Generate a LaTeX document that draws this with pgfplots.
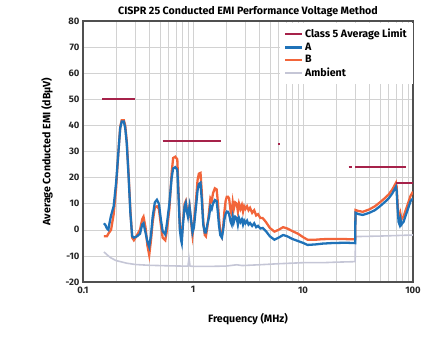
\documentclass[border=0pt]{standalone}
\usepackage{fontspec}
\setmainfont{Fira Sans}
\usepackage{pgfplots}
\pgfplotsset{compat=1.18}
\definecolor{limc}{HTML}{A6224A}
\definecolor{ca}{HTML}{1F72B8}
\definecolor{cb}{HTML}{F2653A}
\definecolor{amb}{HTML}{C5C6D6}
\definecolor{gridc}{HTML}{D2D2D2}
\definecolor{framec}{HTML}{505050}
\begin{document}
\begin{tikzpicture}
\begin{axis}[
  scale only axis, width=330bp, height=261bp,
  xmode=log, xmin=0.1, xmax=100, ymin=-20, ymax=80,
  log basis x=10,
  xtick={0.1,1,10,100}, xticklabels={0.1,1,10,100},
  ytick={-20,-10,0,10,20,30,40,50,60,70,80},
  yticklabels={-20,-10,0,10,20,30,40,50,60,70,80},
  minor xtick={0.2,0.3,0.4,0.5,0.6,0.7,0.8,0.9,2,3,4,5,6,7,8,9,20,30,40,50,60,70,80,90},
  grid=both,
  major grid style={gridc, line width=0.6pt},
  minor grid style={gridc, line width=0.6pt},
  major tick length=0pt, minor tick length=0pt,
  axis line style={framec, line width=1.2pt},
  tick label style={font=\bfseries\fontsize{9.5}{11}\selectfont, color=black!85},
  xticklabel style={yshift=-1bp},
  title={\bfseries\fontsize{10.7}{12}\selectfont CISPR 25 Conducted EMI Performance Voltage Method},
  title style={yshift=-5bp},
  xlabel={\bfseries\fontsize{10.7}{12}\selectfont Frequency (MHz)},
  ylabel={\bfseries\fontsize{10.7}{12}\selectfont Average Conducted EMI (dBµV)},
  xlabel style={yshift=-13bp},
  ylabel style={yshift=6bp},
  legend style={at={(1,1)}, anchor=north east, fill=white, draw=none, yshift=-2bp,
    font=\bfseries\fontsize{10.7}{12}\selectfont, row sep=-0.3pt, inner xsep=4pt, inner ysep=4pt},
  legend cell align=left,
  legend image post style={line width=2.2pt},
]
\addlegendimage{limc, line width=2pt}
\addlegendimage{ca, line width=2pt}
\addlegendimage{cb, line width=2pt}
\addlegendimage{amb, line width=2pt}
\addplot[limc, line width=1.8pt, forget plot] coordinates {(0.15,50) (0.3,50)};
\addplot[amb, line width=1.6pt, forget plot] coordinates {
(0.155,-8.5) (0.16,-9) (0.17,-10) (0.18,-10.8) (0.2,-11.8) (0.25,-12.8) (0.3,-13.3)
(0.4,-13.6) (0.6,-13.8) (0.8,-13.9) (0.9,-13.9) (0.92,-10.8) (0.94,-13.9) (1,-14)
(1.5,-14) (2,-13.9) (2.5,-13.4) (2.8,-13.7) (4,-13.4) (6,-13) (10,-12.6) (15,-12.6)
(20,-12.4) (29.8,-12.2) (30,-2.6) (50,-2.4) (100,-2)};
\addplot[cb, line width=2.3pt, forget plot] coordinates {
(0.155,-2.5) (0.165,-2.5) (0.17,-1.5) (0.18,0) (0.19,6) (0.2,16) (0.21,30) (0.218,39.5)
(0.225,42) (0.235,42) (0.242,40) (0.25,34) (0.26,21) (0.27,7) (0.28,-3) (0.29,-4)
(0.31,-2) (0.33,0) (0.345,4) (0.355,5) (0.37,1) (0.385,-6) (0.4,-9.7) (0.415,-4)
(0.43,3) (0.45,8.5) (0.47,9) (0.49,8) (0.51,2) (0.53,-3) (0.56,-4) (0.58,0) (0.61,8)
(0.64,22) (0.66,27.5) (0.69,28) (0.72,27) (0.74,14) (0.76,1) (0.78,-2) (0.79,-3)
(0.81,3) (0.84,10) (0.86,11) (0.88,8) (0.9,6) (0.93,9) (0.96,3) (0.99,-2) (1.02,3)
(1.06,10) (1.1,19) (1.13,21.5) (1.17,21.8) (1.2,15) (1.24,3) (1.28,-2) (1.31,-2.5)
(1.35,1) (1.4,7) (1.44,12) (1.48,11) (1.52,14) (1.58,15.9) (1.64,15.5) (1.68,11)
(1.72,5) (1.77,-1) (1.83,-2.6) (1.88,1) (1.93,7) (1.98,11) (2.03,12.7) (2.08,12.7)
(2.13,12) (2.2,7) (2.25,6) (2.3,10.5) (2.35,8) (2.42,10.5) (2.5,10) (2.56,7) (2.62,10)
(2.7,8) (2.78,9.5) (2.85,7) (2.92,9) (3.0,8) (3.1,9) (3.2,7.5) (3.3,8.4) (3.45,6.5)
(3.6,7.5) (3.75,5.5) (3.9,6) (4.1,4.5) (4.3,4.5) (4.6,3) (5.0,0.7) (5.5,-0.7) (6.0,0)
(6.6,1) (7.2,0.5) (8.0,-0.5) (9.0,-1.5) (10,-2.8) (11,-3.8) (13,-3.8) (15,-3.6)
(18,-3.5) (22,-3.5) (26,-3.6) (29.8,-3.6) (30,7.6) (32,7.2) (35,6.9) (40,7.8) (45,9)
(50,10.5) (55,12) (60,13.5) (65,15.5) (70,18) (71,16.5) (72.5,10) (74,5) (75.5,4)
(77,6) (78.5,4) (80,4.5) (82,5) (85,7) (90,10) (95,13) (100,14.6)};
\addplot[ca, line width=2.3pt, forget plot] coordinates {
(0.155,2.5) (0.16,1.8) (0.165,0.5) (0.17,0) (0.175,3) (0.18,5.5) (0.19,9) (0.2,18)
(0.21,30) (0.218,39) (0.225,41.5) (0.235,41.5) (0.242,39) (0.25,33) (0.26,20) (0.27,6)
(0.28,-2.5) (0.29,-3) (0.31,-2.5) (0.33,-1.5) (0.345,2) (0.355,2.5) (0.37,-1) (0.385,-4.5)
(0.4,-6.5) (0.415,-2) (0.43,5) (0.45,10.5) (0.47,11.5) (0.49,10) (0.51,4) (0.53,-0.5)
(0.56,-1.8) (0.58,2.5) (0.61,10) (0.64,20) (0.66,23.5) (0.69,24) (0.72,23) (0.74,12)
(0.76,0) (0.78,-4) (0.79,-5) (0.81,2) (0.84,9) (0.86,10.3) (0.88,7) (0.9,5) (0.93,9)
(0.96,4) (0.99,-1) (1.02,1) (1.06,8) (1.1,15) (1.13,17.5) (1.17,18) (1.2,12) (1.24,2)
(1.28,-1) (1.31,-1) (1.35,2) (1.4,5) (1.44,9) (1.48,8) (1.52,10) (1.58,11.4) (1.64,11)
(1.68,7) (1.72,2) (1.77,-2) (1.83,-3) (1.88,0) (1.93,4) (1.98,6) (2.03,7) (2.08,6.9)
(2.13,6) (2.2,3) (2.25,2) (2.3,5) (2.35,3) (2.42,5) (2.5,4.5) (2.56,2) (2.62,4.5)
(2.7,3) (2.78,4) (2.85,2) (2.92,3.5) (3.0,2.5) (3.1,3.5) (3.2,2) (3.3,2.6) (3.45,1.5)
(3.6,2.5) (3.75,1) (3.9,1.5) (4.1,0.5) (4.3,0.7) (4.6,-0.5) (5.0,-2.5) (5.5,-3.8)
(6.0,-3) (6.6,-2) (7.2,-2.5) (8.0,-3.5) (9.0,-4.3) (10,-5) (11,-5.8) (13,-5.6) (15,-5.3)
(18,-5.1) (22,-5) (26,-5) (29.8,-5.1) (30,6.5) (32,6) (35,5.7) (40,6.5) (45,7.5) (50,9)
(55,10.5) (60,12) (65,14) (70,16.5) (71,15) (72.5,8) (74,3) (75.5,2) (77,4) (78.5,2)
(80,2.5) (82,3) (85,5) (90,8) (95,11) (100,12)};
\addplot[limc, line width=1.8pt, forget plot] coordinates {(0.53,34) (1.8,34)};
\addplot[limc, line width=1.8pt, forget plot] coordinates {(5.9,33) (6.2,33)};
\addplot[limc, line width=1.8pt, forget plot] coordinates {(26,24) (28,24)};
\addplot[limc, line width=1.8pt, forget plot] coordinates {(30,24) (87,24)};
\addplot[limc, line width=1.8pt, forget plot] coordinates {(70,18) (100,18)};
\legend{Class 5 Average Limit, A, B, Ambient}
\end{axis}
\pgfresetboundingbox
\useasboundingbox (current axis.south west) ++(-83bp,-59bp) rectangle ++(446bp,341bp);
\end{tikzpicture}
\end{document}
